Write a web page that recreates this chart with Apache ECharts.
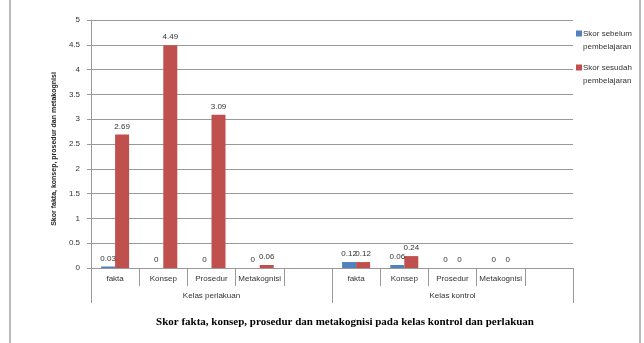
<!DOCTYPE html>
<html>
<head>
<meta charset="utf-8">
<script src="https://cdn.jsdelivr.net/npm/echarts@6/dist/echarts.min.js"></script>
<style>
  html, body { margin: 0; padding: 0; background: #fff; }
  #chart { width: 644px; height: 343px; }
</style>
</head>
<body>
<div id="chart"></div>
<script>
// data
var categories = ['fakta', 'Konsep', 'Prosedur', 'Metakognisi', '', 'fakta', 'Konsep', 'Prosedur', 'Metakognisi', ''];
var groups = ['Kelas perlakuan', 'Kelas kontrol'];
var sebelum = [0.03, 0, 0, 0, '-', 0.12, 0.06, 0, 0, '-'];
var sesudah = [2.69, 4.49, 3.09, 0.06, '-', 0.12, 0.24, 0, 0, '-'];
var yTicks = [0, 0.5, 1, 1.5, 2, 2.5, 3, 3.5, 4, 4.5, 5];

var font = 'Liberation Sans';
var myChart = echarts.init(document.getElementById('chart'));

var labelOpt = {
    show: true,
    position: 'top',
    distance: 4,
    fontSize: 8,
    fontFamily: font,
    color: '#333'
};

// square sits at top of a tall icon box so it lines up with the first text line
var legendIcon = 'path://M0,0H6V6H0Z M0,19L0.01,19';

var option = {
    animation: false,
    textStyle: { fontFamily: font },
    grid: { left: 91, right: 71, top: 20, bottom: 75 },
    legend: {
        orient: 'vertical',
        left: 576,
        top: 27,
        padding: 0,
        itemWidth: 6,
        itemHeight: 19,
        itemGap: 8,
        icon: legendIcon,
        itemStyle: { borderWidth: 0 },
        textStyle: { fontSize: 8, fontFamily: font, color: '#333', lineHeight: 13, padding: [0, 0, 0, -4] },
        data: [
            { name: 'Skor sebelum\npembelajaran' },
            { name: 'Skor sesudah\npembelajaran' }
        ]
    },
    xAxis: [
        {
            type: 'category',
            data: categories,
            position: 'bottom',
            axisLine: { lineStyle: { color: '#999' } },
            axisTick: { show: true, interval: 0, length: 18, lineStyle: { color: '#999' } },
            axisLabel: { interval: 0, fontSize: 8, fontFamily: font, color: '#333', margin: 7 }
        },
        {
            type: 'category',
            data: groups,
            position: 'bottom',
            axisLine: { show: false },
            axisTick: { show: true, interval: 0, length: 35, lineStyle: { color: '#999' } },
            axisLabel: { interval: 0, fontSize: 8, fontFamily: font, color: '#333', margin: 24 }
        }
    ],
    yAxis: {
        type: 'value',
        min: yTicks[0],
        max: yTicks[yTicks.length - 1],
        interval: 0.5,
        name: 'Skor fakta, konsep, prosedur dan metakognisi',
        nameLocation: 'middle',
        nameGap: 26,
        nameTextStyle: { fontSize: 7, fontWeight: 'bold', fontFamily: font, color: '#222', padding: [0, 10, 0, 0] },
        axisLine: { show: true, lineStyle: { color: '#999' } },
        axisTick: { show: true, length: 4, lineStyle: { color: '#999' } },
        axisLabel: { fontSize: 8, fontFamily: font, color: '#333', margin: 11 },
        splitLine: { lineStyle: { color: '#999' } }
    },
    series: [
        {
            name: 'Skor sebelum\npembelajaran',
            type: 'bar',
            data: sebelum,
            barWidth: 14,
            barGap: '0%',
            itemStyle: { color: '#4F81BD' },
            label: labelOpt
        },
        {
            name: 'Skor sesudah\npembelajaran',
            type: 'bar',
            data: sesudah,
            barWidth: 14,
            itemStyle: { color: '#C0504D' },
            label: labelOpt
        }
    ],
    graphic: [
        { type: 'line', shape: { x1: 10, y1: 0, x2: 10, y2: 343 }, style: { stroke: '#777', lineWidth: 1 } },
        { type: 'line', shape: { x1: 640, y1: 0, x2: 640, y2: 343 }, style: { stroke: '#777', lineWidth: 1 } },
        {
            type: 'text',
            x: 345,
            y: 317,
            style: {
                text: 'Skor fakta, konsep, prosedur dan metakognisi pada kelas kontrol dan perlakuan',
                font: 'bold 11px "Liberation Serif"',
                fill: '#000',
                textAlign: 'center'
            }
        }
    ]
};

myChart.setOption(option);
</script>
</body>
</html>
